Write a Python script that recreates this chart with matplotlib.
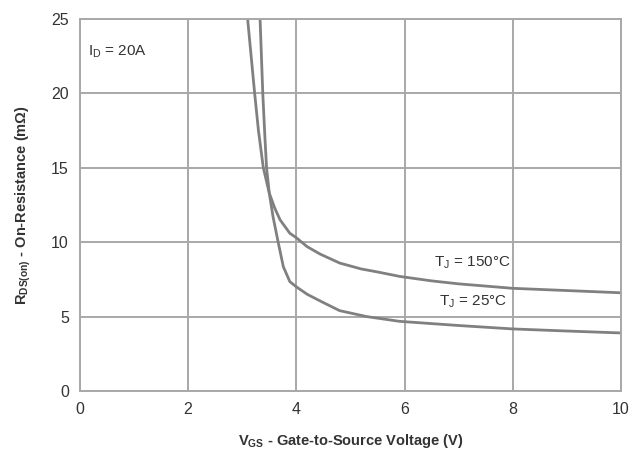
import matplotlib
matplotlib.use("Agg")
import matplotlib.pyplot as plt

plt.rcParams['font.family'] = ['Liberation Sans', 'DejaVu Sans']
plt.rcParams['mathtext.fontset'] = 'custom'
plt.rcParams['mathtext.rm'] = 'Liberation Sans'
plt.rcParams['mathtext.bf'] = 'Liberation Sans:bold'
plt.rcParams['mathtext.it'] = 'Liberation Sans'

# Data
vgs_150 = [3.10, 3.23, 3.30, 3.39, 3.50, 3.60, 3.70, 3.88, 4.00, 4.20, 4.44, 4.80, 5.20,
           5.50, 5.91, 6.50, 7.00, 8.00, 9.00, 10.0]
rds_150 = [25.0, 20.0, 17.5, 15.0, 13.3, 12.3, 11.5, 10.6, 10.3, 9.7, 9.2, 8.6, 8.2,
           8.0, 7.7, 7.4, 7.2, 6.9, 6.75, 6.6]
vgs_25 = [3.33, 3.38, 3.42, 3.45, 3.50, 3.57, 3.67, 3.76, 3.88, 4.00, 4.20, 4.44, 4.80,
          5.30, 5.91, 7.00, 8.00, 9.00, 10.0]
rds_25 = [25.0, 20.0, 17.0, 15.0, 13.3, 11.7, 9.9, 8.35, 7.35, 7.0, 6.5, 6.05, 5.4,
          5.0, 4.68, 4.4, 4.17, 4.03, 3.9]

x_ticks = [0, 2, 4, 6, 8, 10]
y_ticks = [0, 5, 10, 15, 20, 25]

fig = plt.figure(figsize=(6.34, 4.55), dpi=100)
ax = fig.add_axes([0.126, 0.1407, 0.8535, 0.8175])

curve_color = '#808080'
grid_color = '#a8a8a8'
text_color = '#333333'

for xs, ys in ((vgs_150, rds_150), (vgs_25, rds_25)):
    ax.plot(xs, ys, color=curve_color, lw=2.0, solid_capstyle='round',
            solid_joinstyle='round')

ax.set_xlim(0, 10)
ax.set_ylim(0, 25)
ax.set_xticks(x_ticks)
ax.set_yticks(y_ticks)
ax.grid(True, color=grid_color, lw=1.4)
ax.set_axisbelow(True)
for s in ax.spines.values():
    s.set_color(grid_color)
    s.set_linewidth(1.4)
ax.tick_params(length=0, labelsize=11.5, labelcolor=text_color, pad=8)

ax.set_xlabel(r'$\mathbf{V_{GS}}$ - Gate-to-Source Voltage (V)', fontsize=10.5,
              fontweight='bold', color=text_color, labelpad=11)
ax.set_ylabel(r'$\mathbf{R_{DS(on)}}$ - On-Resistance (m$\mathbf{\Omega}$)', fontsize=10.5,
              fontweight='bold', color=text_color, labelpad=13)

ax.text(0.15, 22.8, r'I$_\mathrm{D}$ = 20A', fontsize=11, color=text_color, va='center')
ax.text(7.95, 8.6, r'T$_\mathrm{J}$ = 150°C', fontsize=11, color=text_color, ha='right', va='center')
ax.text(7.9, 6.0, r'T$_\mathrm{J}$ = 25°C', fontsize=11, color=text_color, ha='right', va='center')

fig.savefig('out.png', dpi=100)
